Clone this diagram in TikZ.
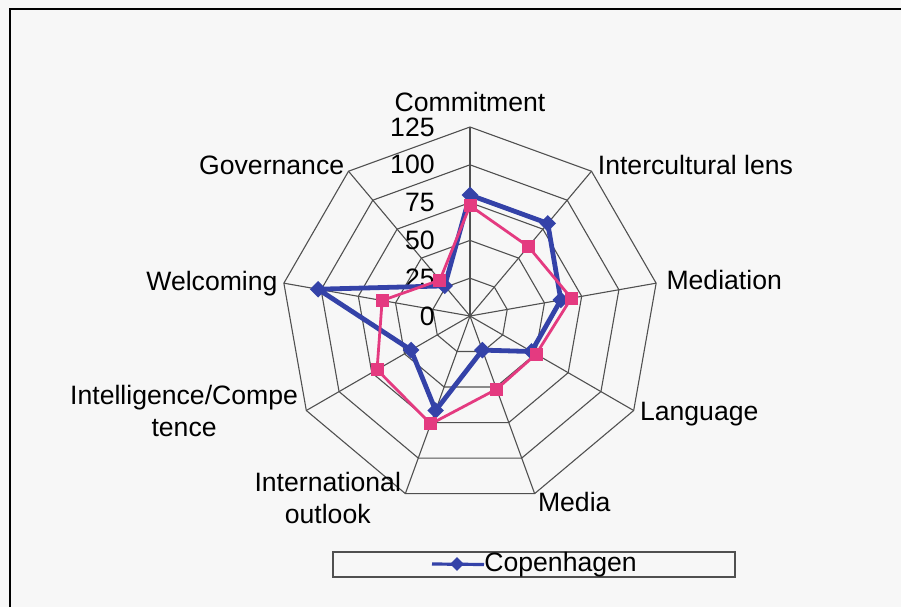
\documentclass[tikz,border=0pt]{standalone}
\usepackage{fontspec}
\setmainfont{Liberation Sans}
\usetikzlibrary{positioning,shapes.geometric}
\definecolor{cphblue}{RGB}{52,66,168}
\definecolor{cphpink}{RGB}{228,58,128}
\definecolor{gridgray}{RGB}{80,80,80}
\definecolor{paper}{RGB}{247,247,247}

\begin{document}
\begin{tikzpicture}[x=0.5pt,y=0.5pt,
        grid/.style={gridgray,line width=0.55pt},
        axislabel/.style={font=\fontsize{13.3}{16}\selectfont,inner sep=0pt,align=center},
        ticklabel/.style={font=\fontsize{13.3}{16}\selectfont,inner sep=0pt,anchor=east},
        blueline/.style={cphblue,line width=2.4pt,line join=round},
        pinkline/.style={cphpink,line width=1.4pt,line join=round},
        bluemark/.style={diamond,fill=cphblue,inner sep=0pt,minimum size=8.5pt},
        pinkmark/.style={rectangle,fill=cphpink,inner sep=0pt,minimum size=6.5pt}]
        \fill[paper](0,0)rectangle(901,607);
        \useasboundingbox(0,0)rectangle(901,607);
        \draw[line width=1pt](10,0)|-(901,598);
        \begin{scope}[shift={(470,291)}]
        % rings and spokes
        \foreach \v in {25,50,75,100,125}
            \draw[grid](90:{\v*1.512})\foreach \i in {1,...,8}{--({90-40*\i}:{\v*1.512})}--cycle;
        \foreach \i in {0,...,8}{
            \coordinate(v\i)at({90-40*\i}:189);
            \draw[grid](0,0)--(v\i);
        }
        \foreach \v in {0,25,50,75,100,125}
            \node[ticklabel]at(-35,{\v*1.512}){\v};
        % series
        \foreach \v[count=\i from 0]in {80,80,61,47,24,66.5,45,102,26}
            \coordinate(b\i)at({90-40*\i}:{\v*1.512});
        \foreach \v[count=\i from 0]in {73,60,68,50.5,51.5,76,71,59,31}
            \coordinate(p\i)at({90-40*\i}:{\v*1.512});
        \draw[blueline](b0)\foreach \i in {1,...,8}{--(b\i)}--cycle;
        \foreach \i in {0,...,8}\node[bluemark]at(b\i){};
        \draw[pinkline](p0)\foreach \i in {1,...,8}{--(p\i)}--cycle;
        \foreach \i in {0,...,8}\node[pinkmark]at(p\i){};
        \end{scope}
        % axis names
        \node[axislabel,above=7.5pt of v0](commit){Commitment};
        \node[axislabel,right=3pt of v1,yshift=3pt](icl){Intercultural lens};
        \node[axislabel,right=5pt of v2,yshift=1.5pt](medi){Mediation};
        \node[axislabel,right=3pt of v3,yshift=-2pt](lang){Language};
        \node[axislabel,anchor=west,yshift=-4pt,xshift=1.5pt]at(v4)(media){Media};
        \node[axislabel,left=2pt of v5,yshift=-2pt](intout){International\\outlook};
        \node[axislabel,left=4pt of v6](intel){Intelligence/Compe\\tence};
        \node[axislabel,left=3pt of v7](welc){Welcoming};
        \node[axislabel,left=2pt of v8,yshift=3pt](gov){Governance};
        % legend
        \node[draw=gridgray,line width=0.6pt,minimum width=201pt,minimum height=12.5pt,inner sep=0pt](leg)at(534,42.5){};
        \node[axislabel,anchor=west](legtxt)at(484,42.5){Copenhagen};
        \coordinate(legl)at(432,43);
        \draw[cphblue,line width=1.6pt](legl)--(legtxt.west);
        \node[bluemark,minimum size=7pt]at(457,43){};
    \end{tikzpicture}
\end{document}
